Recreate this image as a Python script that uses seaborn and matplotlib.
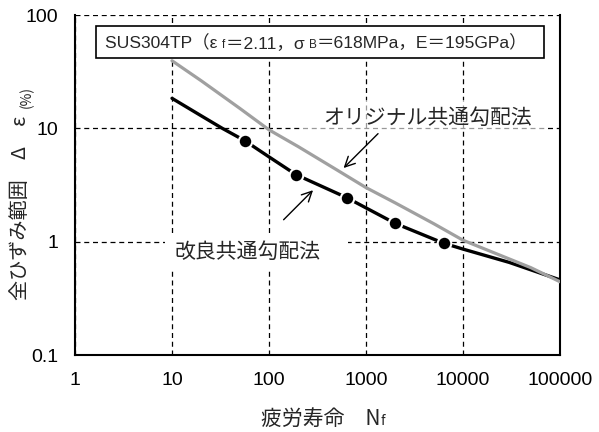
import matplotlib
matplotlib.use("Agg")
import matplotlib.pyplot as plt
import seaborn as sns
import pandas as pd
from matplotlib.offsetbox import TextArea, HPacker, AnnotationBbox
from matplotlib.patches import Rectangle

# オリジナル共通勾配法 (gray line)
n_orig = [10, 20, 50, 100, 200, 500, 1000, 2000, 5000, 10000, 20000, 50000, 100000]
de_orig = [39.5, 26.3, 15.0, 9.7, 6.9, 4.3, 3.0, 2.2, 1.44, 1.03, 0.81, 0.59, 0.443]

# 改良共通勾配法 (black line)
n_impr = [10, 20, 33, 56, 100, 190, 630, 2000, 6300, 10000, 30000, 100000]
de_impr = [18.4, 12.9, 10.0, 7.8, 5.6, 3.9, 2.45, 1.45, 0.97, 0.86, 0.656, 0.46]

# 実験値 (markers)
n_exp = [56, 190, 630, 2000, 6300]
de_exp = [7.8, 3.9, 2.45, 1.45, 0.97]

x_ticks = [1, 10, 100, 1000, 10000, 100000]
x_labels = ['1', '10', '100', '1000', '10000', '100000']
y_ticks = [0.1, 1, 10, 100]
y_labels = ['0.1', '1', '10', '100']

sns.set_style("white")
plt.rcParams['font.family'] = ['Liberation Sans', 'Noto Sans CJK JP']
jp = ['Noto Sans CJK JP', 'Liberation Sans']
mix = ['Liberation Sans', 'Noto Sans CJK JP']

fig = plt.figure(figsize=(5.99, 4.32), dpi=100)
ax = fig.add_axes([75 / 599, 77 / 432, 485 / 599, 340 / 432])

df_orig = pd.DataFrame({'N': n_orig, 'de': de_orig})
df_impr = pd.DataFrame({'N': n_impr, 'de': de_impr})
df_exp = pd.DataFrame({'N': n_exp, 'de': de_exp})

sns.lineplot(data=df_impr, x='N', y='de', color='black', lw=2.4, ax=ax, zorder=3)
sns.lineplot(data=df_orig, x='N', y='de', color='#a0a0a0', lw=2.3, ax=ax, zorder=4)
sns.scatterplot(data=df_exp, x='N', y='de', color='black', s=95, edgecolor='white',
                linewidth=1.5, ax=ax, zorder=5)

ax.set_xscale('log')
ax.set_yscale('log')
ax.set_xlim(1, 1e5)
ax.set_ylim(0.1, 100)
ax.set_xticks(x_ticks, x_labels)
ax.set_yticks(y_ticks, y_labels)
ax.set_xlabel('')
ax.set_ylabel('')

ax.set_axisbelow(True)
ax.grid(which='major', color='black', ls=(0, (4, 3)), lw=0.9)
ax.grid(which='minor', visible=False)
ax.tick_params(which='both', direction='in', top=False, right=False, width=1.2, colors='black')
ax.tick_params(which='major', length=5, labelsize=14)
ax.tick_params(axis='x', which='major', pad=12)
ax.tick_params(axis='y', which='major', pad=12)
ax.tick_params(which='minor', length=4)
ax.spines['top'].set_visible(False)
for s in ['left', 'bottom', 'right']:
    ax.spines[s].set_color('black')
    ax.spines[s].set_linewidth(1.5)

# white boxes behind the labels
ax.add_patch(Rectangle((0.186, 0.256), 0.377, 0.103, transform=ax.transAxes,
                       facecolor='white', edgecolor='none', zorder=1))
ax.add_patch(Rectangle((0.464, 0.659), 0.505, 0.09, transform=ax.transAxes,
                       facecolor='white', edgecolor='none', alpha=0.6, zorder=1))

# annotations
ax.text(360, 12.3, 'オリジナル共通勾配法', fontsize=15, va='center', ha='left', family=jp, zorder=6)
ax.annotate('', xy=(561, 4.29), xytext=(1394, 9.34),
            arrowprops=dict(arrowstyle='->', color='black', lw=1, mutation_scale=18), zorder=6)
ax.text(10.7, 0.81, '改良共通勾配法', fontsize=15, va='center', ha='left', family=jp, zorder=6)
ax.annotate('', xy=(298, 2.96), xytext=(135, 1.5),
            arrowprops=dict(arrowstyle='->', color='black', lw=1, mutation_scale=18), zorder=6)

# material box
ax.add_patch(Rectangle((0.0427, 0.8726), 0.9243, 0.095, transform=ax.transAxes,
                       facecolor='white', edgecolor='black', lw=1.2, zorder=6, clip_on=False))
fs = 12.6
small = 8.5
parts = [
    TextArea('SUS304TP（ε ', textprops=dict(fontsize=fs, family=mix)),
    TextArea('f', textprops=dict(fontsize=small, family=mix)),
    TextArea('＝2.11，σ ', textprops=dict(fontsize=fs, family=mix)),
    TextArea('B', textprops=dict(fontsize=small, family=mix)),
    TextArea('＝618MPa，E＝195GPa）', textprops=dict(fontsize=fs, family=mix)),
]
box = HPacker(children=parts, align='baseline', pad=0, sep=0)
ab = AnnotationBbox(box, (0.0619, 0.919), xycoords='axes fraction', box_alignment=(0, 0.5),
                    frameon=False, pad=0, zorder=7)
ax.add_artist(ab)

# x label
xl = HPacker(children=[TextArea('疲労寿命　N', textprops=dict(fontsize=15, family=jp)),
                       TextArea('f', textprops=dict(fontsize=10, family=jp))],
             align='baseline', pad=0, sep=0)
ax.add_artist(AnnotationBbox(xl, (323 / 599, 1 - 419 / 432), xycoords='figure fraction',
                             box_alignment=(0.5, 0.5), frameon=False, pad=0))

# y label
ax.text(-0.112, 0.162, '全ひずみ範囲　Δ　ε', rotation=90, ha='center', va='bottom',
        fontsize=14.5, family=jp, transform=ax.transAxes, clip_on=False)
ax.text(-0.1, 0.725, '(%)', rotation=90, ha='center', va='bottom',
        fontsize=10, family=jp, transform=ax.transAxes, clip_on=False)

fig.savefig('out.png', dpi=100)
